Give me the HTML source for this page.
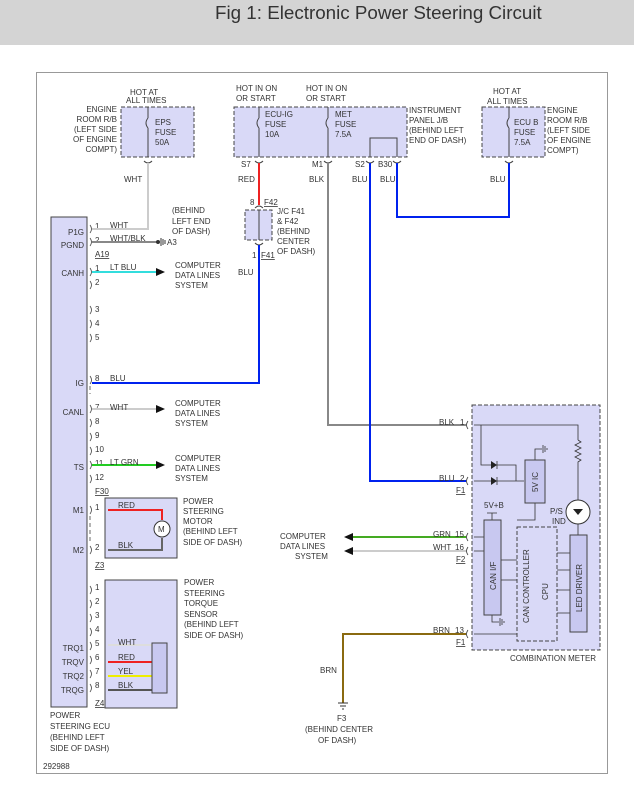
<!DOCTYPE html>
<html><head><meta charset="utf-8"><style>
html,body{margin:0;padding:0;background:#fff;}
svg{display:block;font-family:"Liberation Sans",sans-serif;}
text{font-size:8px;fill:#333;}
.t{font-size:18.8px;fill:#333;}
</style></head><body>
<svg width="634" height="786" viewBox="0 0 634 786" xmlns="http://www.w3.org/2000/svg">
<rect x="0" y="0" width="634" height="45" fill="#d4d4d4"/>
<text class="t" x="215" y="19">Fig 1: Electronic Power Steering Circuit</text>
<rect x="36.5" y="72.5" width="571" height="701" fill="#fff" stroke="#999" stroke-width="1"/>

<g fill="#d9d9f7" stroke="#444" stroke-dasharray="4,2" stroke-width="1">
<rect x="121" y="107" width="73" height="50"/>
<rect x="234" y="107" width="173" height="50"/>
<rect x="482" y="107" width="63" height="50"/>
<rect x="245" y="210" width="27" height="30"/>
<rect x="472" y="405" width="128" height="245"/>
<rect x="517" y="527" width="40" height="114"/>
</g>
<text x="130" y="95">HOT AT</text><text x="126" y="103">ALL TIMES</text>
<text x="117" y="112" text-anchor="end">ENGINE</text>
<text x="117" y="122" text-anchor="end">ROOM R/B</text>
<text x="117" y="132" text-anchor="end">(LEFT SIDE</text>
<text x="117" y="142" text-anchor="end">OF ENGINE</text>
<text x="117" y="152" text-anchor="end">COMPT)</text>
<text x="155" y="125">EPS</text><text x="155" y="135">FUSE</text><text x="155" y="145">50A</text>
<text x="236" y="91">HOT IN ON</text><text x="236" y="101">OR START</text>
<text x="306" y="91">HOT IN ON</text><text x="306" y="101">OR START</text>
<text x="265" y="117">ECU-IG</text><text x="265" y="127">FUSE</text><text x="265" y="137">10A</text>
<text x="335" y="117">MET</text><text x="335" y="127">FUSE</text><text x="335" y="137">7.5A</text>
<text x="409" y="113">INSTRUMENT</text><text x="409" y="123">PANEL J/B</text>
<text x="409" y="133">(BEHIND LEFT</text><text x="409" y="143">END OF DASH)</text>
<text x="493" y="94">HOT AT</text><text x="487" y="104">ALL TIMES</text>
<text x="514" y="125">ECU B</text><text x="514" y="135">FUSE</text><text x="514" y="145">7.5A</text>
<text x="547" y="113">ENGINE</text><text x="547" y="123">ROOM R/B</text>
<text x="547" y="133">(LEFT SIDE</text><text x="547" y="143">OF ENGINE</text><text x="547" y="153">COMPT)</text>
<g stroke="#444" fill="none" stroke-width="1">
<path d="M148 107V118 M148 128V157 M148 118q-4 5 0 10"/>
<path d="M259 107V118 M259 128V157 M259 118q-4 5 0 10"/>
<path d="M328 107V118 M328 128V157 M328 118q-4 5 0 10"/>
<path d="M509 107V118 M509 128V157 M509 118q-4 5 0 10"/>
<path d="M370 157V138H397V157"/>
<path d="M144 161q4 4 8 0 M255 161q4 4 8 0 M324 161q4 4 8 0 M366 161q4 4 8 0 M393 161q4 4 8 0 M505 161q4 4 8 0"/>
<path d="M255 208q4-4 8 0 M255 243q4 4 8 0"/>
<path d="M259 210V240"/>
</g>
<text x="241" y="167">S7</text><text x="312" y="167">M1</text><text x="355" y="167">S2</text><text x="378" y="167">B30</text>
<text x="124" y="182">WHT</text><text x="238" y="182">RED</text><text x="309" y="182">BLK</text>
<text x="352" y="182">BLU</text><text x="380" y="182">BLU</text><text x="490" y="182">BLU</text>
<text x="250" y="205">8</text><text x="264" y="205" text-decoration="underline">F42</text>
<text x="277" y="214">J/C F41</text><text x="277" y="224">&amp; F42</text><text x="277" y="234">(BEHIND</text>
<text x="277" y="244">CENTER</text><text x="277" y="254">OF DASH)</text>
<text x="252" y="258">1</text><text x="261" y="258" text-decoration="underline">F41</text>
<text x="238" y="275">BLU</text>

<rect x="51" y="217" width="36" height="490" fill="#d9d9f7" stroke="#444"/>
<g text-anchor="end">
<text x="84" y="235">P1G</text><text x="84" y="248">PGND</text><text x="84" y="276">CANH</text>
<text x="84" y="386">IG</text><text x="84" y="415">CANL</text><text x="84" y="470">TS</text>
<text x="84" y="513">M1</text><text x="84" y="553">M2</text>
<text x="84" y="651">TRQ1</text><text x="84" y="665">TRQV</text><text x="84" y="679">TRQ2</text><text x="84" y="693">TRQG</text>
</g>
<text x="95" y="229">1</text><text x="95" y="243">2</text><text x="95" y="257" text-decoration="underline">A19</text>
<text x="95" y="271">1</text><text x="95" y="285">2</text><text x="95" y="312">3</text><text x="95" y="326">4</text><text x="95" y="340">5</text>
<text x="95" y="381">8</text><text x="95" y="410">7</text><text x="95" y="424">8</text><text x="95" y="438">9</text>
<text x="95" y="452">10</text><text x="95" y="466">11</text><text x="95" y="480">12</text><text x="95" y="494" text-decoration="underline">F30</text>
<text x="95" y="510">1</text><text x="95" y="550">2</text><text x="95" y="568" text-decoration="underline">Z3</text>
<text x="95" y="590">1</text><text x="95" y="604">2</text><text x="95" y="618">3</text><text x="95" y="632">4</text>
<text x="95" y="646">5</text><text x="95" y="660">6</text><text x="95" y="674">7</text><text x="95" y="688">8</text>
<text x="95" y="706" text-decoration="underline">Z4</text>
<g stroke="#444" fill="none" stroke-width="0.8">
<path d="M90 225q3 4 0 8 M90 238q3 4 0 8 M90 268q3 4 0 8 M90 281q3 4 0 8 M90 306q3 4 0 8 M90 320q3 4 0 8 M90 334q3 4 0 8 M90 376q3 4 0 8 M90 405q3 4 0 8 M90 419q3 4 0 8 M90 433q3 4 0 8 M90 447q3 4 0 8 M90 461q3 4 0 8 M90 475q3 4 0 8 M90 506q3 4 0 8 M90 546q3 4 0 8 M90 586q3 4 0 8 M90 600q3 4 0 8 M90 614q3 4 0 8 M90 628q3 4 0 8 M90 642q3 4 0 8 M90 656q3 4 0 8 M90 670q3 4 0 8 M90 684q3 4 0 8"/>
<path d="M90 386V394 M90 516V544" stroke-dasharray="4,3"/>
</g>
<g fill="none" stroke-width="2">
<path d="M92 229H148V163" stroke="#ccc"/>
<path d="M92 242H158" stroke="#888"/>
<path d="M92 272H158" stroke="#33dddd"/>
<path d="M92 383H259V245" stroke="#0022ee"/>
<path d="M259 163V205" stroke="#ee2222"/>
<path d="M92 409H158" stroke="#ccc"/>
<path d="M92 465H158" stroke="#22cc22"/>
<path d="M328 163V425H466" stroke="#888"/>
<path d="M370 163V481H466" stroke="#0022ee"/>
<path d="M397 163V217H509V163" stroke="#0022ee"/>
<path d="M466 537H352" stroke="#44aa22"/>
<path d="M466 551H352" stroke="#ccc"/>
<path d="M466 634H343V703" stroke="#8a6a10"/>
</g>
<g fill="#111">
<polygon points="156,268 165,272 156,276"/><polygon points="156,405 165,409 156,413"/>
<polygon points="156,461 165,465 156,469"/>
<polygon points="353,533 344,537 353,541"/><polygon points="353,547 344,551 353,555"/>
</g>
<g stroke="#333" stroke-width="1"><path d="M158 242h2 M161 238v8 M163 239v6 M165 240v4"/><circle cx="158" cy="242" r="1.5" fill="#333"/>
<path d="M338 703h10 M340 706h6 M342 709h2"/></g>
<text x="167" y="245">A3</text>
<text x="172" y="213">(BEHIND</text><text x="172" y="224">LEFT END</text><text x="172" y="234">OF DASH)</text>
<text x="110" y="228">WHT</text><text x="110" y="241">WHT/BLK</text><text x="110" y="270">LT BLU</text>
<text x="110" y="381">BLU</text><text x="110" y="410">WHT</text><text x="110" y="465">LT GRN</text>
<text x="175" y="268">COMPUTER</text><text x="175" y="278">DATA LINES</text><text x="175" y="288">SYSTEM</text>
<text x="175" y="406">COMPUTER</text><text x="175" y="416">DATA LINES</text><text x="175" y="426">SYSTEM</text>
<text x="175" y="461">COMPUTER</text><text x="175" y="471">DATA LINES</text><text x="175" y="481">SYSTEM</text>

<rect x="105" y="498" width="72" height="60" fill="#d9d9f7" stroke="#444"/>
<path d="M108 510H162V520" stroke="#ee2222" stroke-width="2" fill="none"/>
<path d="M108 550H162V538" stroke="#666" stroke-width="2" fill="none"/>
<circle cx="162" cy="529" r="8" fill="#fff" stroke="#333"/><text x="158" y="532">M</text>
<text x="118" y="508">RED</text><text x="118" y="548">BLK</text>
<text x="183" y="504">POWER</text><text x="183" y="514">STEERING</text><text x="183" y="524">MOTOR</text>
<text x="183" y="534">(BEHIND LEFT</text><text x="183" y="545">SIDE OF DASH)</text>
<rect x="105" y="580" width="72" height="128" fill="#d9d9f7" stroke="#444"/>
<g stroke-width="2" fill="none">
<path d="M108 645H152" stroke="#ddd"/><path d="M108 662H152" stroke="#ee2222"/>
<path d="M108 676H152" stroke="#eeee00"/><path d="M108 690H152" stroke="#555"/>
</g>
<rect x="152" y="643" width="15" height="50" fill="#c8c8f0" stroke="#444"/>
<text x="118" y="645">WHT</text><text x="118" y="660">RED</text><text x="118" y="674">YEL</text><text x="118" y="688">BLK</text>
<text x="184" y="585">POWER</text><text x="184" y="596">STEERING</text><text x="184" y="606">TORQUE</text>
<text x="184" y="617">SENSOR</text><text x="184" y="627">(BEHIND LEFT</text><text x="184" y="638">SIDE OF DASH)</text>
<text x="50" y="718">POWER</text><text x="50" y="729">STEERING ECU</text><text x="50" y="740">(BEHIND LEFT</text><text x="50" y="751">SIDE OF DASH)</text>
<text x="43" y="769">292988</text>

<text x="439" y="425">BLK</text><text x="460" y="425">1</text>
<text x="439" y="481">BLU</text><text x="460" y="481">2</text><text x="456" y="493" text-decoration="underline">F1</text>
<text x="433" y="537">GRN</text><text x="455" y="537">15</text>
<text x="433" y="550">WHT</text><text x="455" y="550">16</text><text x="456" y="562" text-decoration="underline">F2</text>
<text x="433" y="633">BRN</text><text x="455" y="633">13</text><text x="456" y="645" text-decoration="underline">F1</text>
<text x="280" y="539">COMPUTER</text><text x="280" y="549">DATA LINES</text><text x="295" y="559">SYSTEM</text>
<text x="510" y="661">COMBINATION METER</text>
<text x="320" y="673">BRN</text>
<text x="337" y="721">F3</text><text x="305" y="732">(BEHIND CENTER</text><text x="318" y="743">OF DASH)</text>
<g stroke="#333" fill="none" stroke-width="0.8">
<path d="M468 421q-3 4 0 8 M468 477q-3 4 0 8 M468 533q-3 4 0 8 M468 547q-3 4 0 8 M468 630q-3 4 0 8"/>
<path d="M474 425H578V440 M578 440l3 2-6 3 6 3-6 3 6 3-6 3 6 3-3 2V500 M578 524V535"/>
<path d="M481 425V465H516V481 M474 481H524 M497 461v8 M497 477v8"/>
<path d="M535 460V449H542 M543 445v8 M545 446v6 M547 448v2"/>
<path d="M535 503V520H517"/>
<path d="M474 537H484 M474 551H484"/>
<path d="M492 520V513 M487 513h10 M492 615V622H499 M500 618v8 M502 619v6 M504 621v2"/>
<path d="M501 560H517 M501 580H517 M557 553H570 M557 570H570 M557 590H570 M557 613H570"/>
<path d="M474 634H517"/>
</g>
<polygon points="491,461 497,465 491,469" fill="#222"/><polygon points="491,477 497,481 491,485" fill="#222"/>
<circle cx="578" cy="512" r="12" fill="#fff" stroke="#333"/>
<polygon points="573,509 583,509 578,515" fill="#222"/>
<rect x="525" y="460" width="20" height="43" fill="#c8c8f0" stroke="#444"/>
<rect x="484" y="520" width="17" height="95" fill="#c8c8f0" stroke="#444"/>
<rect x="570" y="535" width="17" height="97" fill="#c8c8f0" stroke="#444"/>
<text x="484" y="508">5V+B</text><text x="550" y="514">P/S</text><text x="552" y="524">IND</text>
<text transform="translate(538,492) rotate(-90)">5V IC</text>
<text transform="translate(496,590) rotate(-90)">CAN I/F</text>
<text transform="translate(529,623) rotate(-90)">CAN CONTROLLER</text>
<text transform="translate(548,600) rotate(-90)">CPU</text>
<text transform="translate(582,612) rotate(-90)">LED DRIVER</text>
</svg>
</body></html>
